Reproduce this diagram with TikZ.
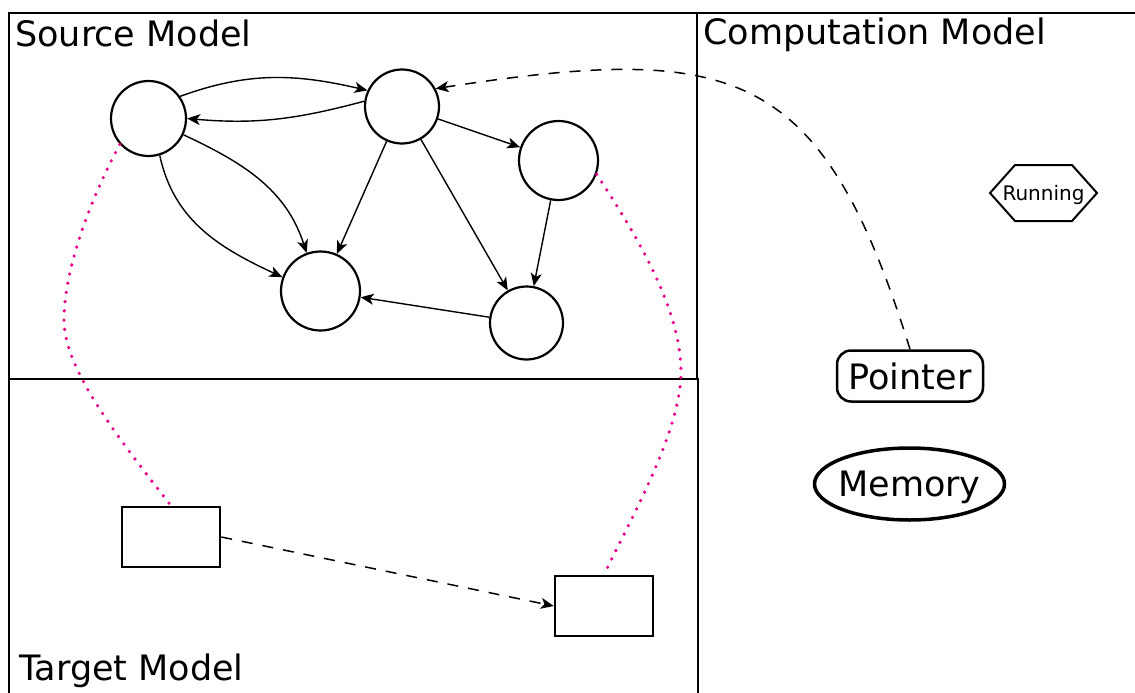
\documentclass[tikz,border=0pt]{standalone}
\usepackage{fontspec}
\setmainfont{DejaVu Sans}
\usetikzlibrary{arrows.meta,shapes.geometric}
\definecolor{linkpink}{RGB}{232,0,140}

\begin{document}
\begin{tikzpicture}[x=1pt,y=-1pt,
  frame/.style={line width=1.5pt},
  title/.style={anchor=base west, inner sep=0pt, font=\fontsize{35}{40}\selectfont},
  state/.style={circle, draw, line width=2.2pt, inner sep=0pt},
  tip/.style={-{Stealth[length=13pt,width=11pt,inset=3.5pt]}},
  edge/.style={tip, line width=1.4pt},
  dashedge/.style={tip, line width=1.5pt, dash pattern=on 11pt off 10pt},
  pinklink/.style={linkpink, line width=3.6pt, line cap=round, dash pattern=on 0pt off 9.3pt},
  elembox/.style={draw, rectangle, line width=2.5pt, minimum width=98pt, minimum height=60pt, inner sep=0pt},
  bigtext/.style={font=\fontsize{35}{40}\selectfont, inner sep=0pt, text depth=0pt}
]
\useasboundingbox (0,0) rectangle (1135,693);

% model frames
\draw[frame] (9,693) -- (9,13) -- (1135,13);
\draw[frame] (697,13) -- (697,379);
\draw[frame] (9,379) -- (698,379) -- (698,693);

\node[title] (srcT) at (15,47) {Source Model};
\node[title] (cmpT) at (703,45) {Computation Model};
\node[title] (tgtT) at (19,680) {Target Model};

% source graph
\node[state, minimum size=75pt] (A) at (148.5,118.5) {};
\node[state, minimum size=74pt] (B) at (402,106.5) {};
\node[state, minimum size=79pt] (C) at (558.5,160.5) {};
\node[state, minimum size=79pt] (D) at (320.5,291) {};
\node[state, minimum size=73pt] (E) at (526.5,323) {};

\draw[edge] (A.35) to[out=20, in=167] (B.155);
\draw[edge] (B.172) to[out=195, in=-5] (A.0);
\draw[edge] (B) -- (C);
\draw[edge] (A.-25) to[out=-25, in=108] (D.110);
\draw[edge] (A.-73) to[out=-78, in=155] (D.160);
\draw[edge] (B) -- (D);
\draw[edge] (B) -- (E);
\draw[edge] (C) -- (E);
\draw[edge] (E) -- (D);

% target elements
\node[elembox] (R1) at (171,537) {};
\node[elembox] (R2) at (604,606) {};
\draw[dashedge] (R1.east) -- (R2.west);

% computation elements
\node[font=\fontsize{20}{24}\selectfont, inner sep=0pt, text depth=0pt] (run) at (1043.5,193) {Running};
\draw[line width=2pt] ([xshift=-53.5pt]run.center) -- ([xshift=-28.5pt,yshift=28pt]run.center)
  -- ([xshift=28.5pt,yshift=28pt]run.center) -- ([xshift=53.5pt]run.center)
  -- ([xshift=28.5pt,yshift=-28pt]run.center) -- ([xshift=-28.5pt,yshift=-28pt]run.center) -- cycle;

\node[bigtext, draw, rounded corners=14pt, line width=2.5pt, minimum width=146pt, minimum height=51pt] (P) at (910,376) {Pointer};
\node[bigtext, draw, ellipse, line width=3.5pt, inner xsep=-12pt, minimum width=190pt, minimum height=72pt] (M) at (909.5,484) {Memory};

\draw[dashedge] (P.north) .. controls (822,67) and (737,42) .. (B.28);

% links between models
\coordinate (k1) at (64,320);
\coordinate (k2) at (681,370);
\draw[pinklink] (A.222) .. controls (90,200) and (64,270) .. (k1)
  .. controls (64,370) and (120,440) .. (R1.north);
\draw[pinklink] (C.-20) .. controls (640,240) and (680,310) .. (k2)
  .. controls (682,430) and (630,520) .. (R2.north);
\end{tikzpicture}
\end{document}
